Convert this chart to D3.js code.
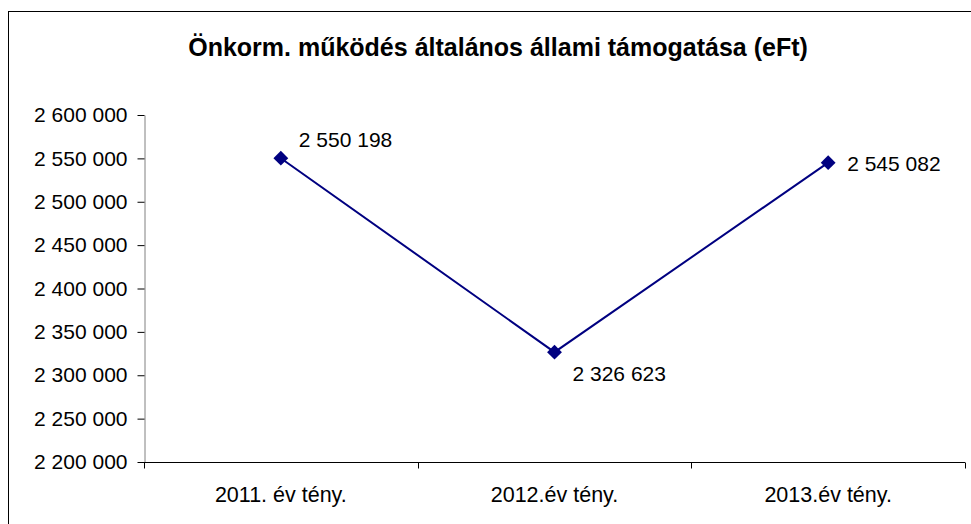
<!DOCTYPE html>
<html>
<head>
<meta charset="utf-8">
<script src="https://cdn.jsdelivr.net/npm/d3@7"></script>
<style>
  body { margin: 0; background: #fff; }
  svg { display: block; font-family: "Liberation Sans", Arial, sans-serif; }
</style>
</head>
<body>
<svg id="chart"></svg>
<script>
const categories = ["2011. év tény.", "2012.év tény.", "2013.év tény."];
const values = [2550198, 2326623, 2545082];
const yTicks = [2200000, 2250000, 2300000, 2350000, 2400000, 2450000, 2500000, 2550000, 2600000];
const title = "Önkorm. működés általános állami támogatása (eFt)";

const w = 971;
const h = 524;
const m = { left: 144, right: 965, top: 115, bottom: 462 };

const svg = d3.select("#chart").attr("width", w).attr("height", h);

// outer chart border (runs off right/bottom edge)
svg.append("rect")
  .attr("x", 8.5).attr("y", 11.5)
  .attr("width", 1000).attr("height", 600)
  .attr("fill", "none").attr("stroke", "#000").attr("stroke-width", 1);

svg.append("text")
  .attr("x", 498).attr("y", 56)
  .attr("text-anchor", "middle")
  .style("font-size", "25px").style("font-weight", "bold")
  .text(title);

const x = d3.scaleBand().domain(categories).range([m.left, m.right]);
const y = d3.scaleLinear().domain([2200000, 2600000]).range([m.bottom, m.top]);

const fmt = (v) => d3.format(",")(v).replace(/,/g, " ");

// y axis
const yAxis = svg.append("g")
  .attr("transform", `translate(${m.left + 0.5},0)`)
  .call(d3.axisLeft(y).tickValues(yTicks).tickSize(7).tickSizeOuter(0).tickFormat(fmt));
yAxis.select(".domain").attr("stroke", "#808080");
yAxis.selectAll(".tick line").attr("stroke", "#000");
yAxis.selectAll("text").style("font-size", "21px").attr("fill", "#000").attr("x", -17);

// x axis with ticks at category boundaries
const xg = svg.append("g").attr("transform", `translate(0,${m.bottom + 0.5})`);
xg.append("line")
  .attr("x1", m.left).attr("x2", m.right)
  .attr("stroke", "#000");
const bounds = categories.map((c) => x(c)).concat([m.right]);
xg.selectAll(".xt")
  .data(bounds)
  .enter()
  .append("line")
  .attr("x1", (d) => Math.round(d) + 0.5).attr("x2", (d) => Math.round(d) + 0.5)
  .attr("y1", 0).attr("y2", 6)
  .attr("stroke", "#000");
xg.selectAll(".xl")
  .data(categories)
  .enter()
  .append("text")
  .attr("x", (d) => x(d) + x.bandwidth() / 2)
  .attr("y", 39)
  .attr("text-anchor", "middle")
  .style("font-size", "21.5px")
  .text((d) => d);

const cx = (i) => x(categories[i]) + x.bandwidth() / 2;

svg.append("path")
  .datum(values)
  .attr("fill", "none")
  .attr("stroke", "#000080")
  .attr("stroke-width", 2)
  .attr("d", d3.line().x((d, i) => cx(i)).y((d) => y(d)));

svg.selectAll(".pt")
  .data(values)
  .enter()
  .append("path")
  .attr("d", d3.symbol().type(d3.symbolDiamond2).size(140))
  .attr("transform", (d, i) => `translate(${cx(i)},${y(d)})`)
  .attr("fill", "#000080");

// data labels
const labelOffsets = [[18, -11.5], [18, 28.5], [19, 8]];
svg.selectAll(".lbl")
  .data(values)
  .enter()
  .append("text")
  .attr("x", (d, i) => cx(i) + labelOffsets[i][0])
  .attr("y", (d, i) => y(d) + labelOffsets[i][1])
  .style("font-size", "21px")
  .text((d) => fmt(d));
</script>
</body>
</html>
